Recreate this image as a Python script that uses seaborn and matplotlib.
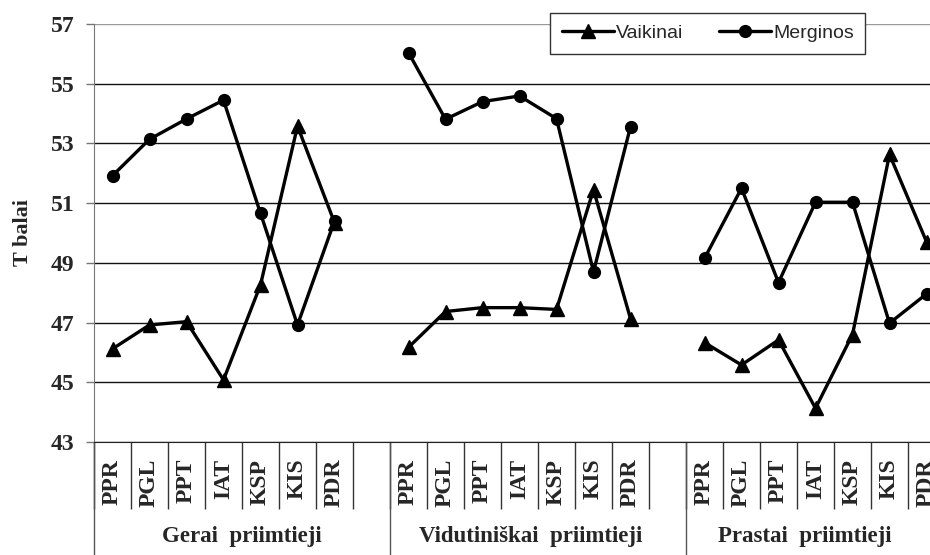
import pandas as pd
import seaborn as sns
import matplotlib.pyplot as plt
from matplotlib.lines import Line2D

GROUPS = ['Gerai  priimtieji', 'Vidutiniškai  priimtieji', 'Prastai  priimtieji']
SCALES = ['PPR', 'PGL', 'PPT', 'IAT', 'KSP', 'KIS', 'PDR']

VAIKINAI = [
    [46.12, 46.92, 47.03, 45.08, 48.26, 53.58, 50.35],
    [46.17, 47.37, 47.50, 47.50, 47.44, 51.45, 47.13],
    [46.33, 45.58, 46.42, 44.13, 46.60, 52.63, 49.71],
]
MERGINOS = [
    [51.92, 53.14, 53.82, 54.45, 50.66, 46.92, 50.40],
    [56.04, 53.81, 54.40, 54.59, 53.83, 48.70, 53.56],
    [49.15, 51.50, 48.34, 51.03, 51.03, 46.98, 47.96],
]

SERIF = 'Liberation Serif'
SANS = 'Liberation Sans'


def build_df():
    rows = []
    for name, values in [('Vaikinai', VAIKINAI), ('Merginos', MERGINOS)]:
        for g, group_vals in enumerate(values):
            for c, v in enumerate(group_vals):
                # one empty slot after each group
                rows.append({'series': name, 'group': g, 'pos': g * 8 + c,
                             'scale': SCALES[c], 'value': v})
    return pd.DataFrame(rows)


def main():
    df = build_df()

    sns.set_style('white')
    plt.rcParams['font.family'] = [SERIF, 'DejaVu Serif']

    fig = plt.figure(figsize=(9.3, 5.55), dpi=100)
    ax = fig.add_axes([94 / 930, 113 / 555, 851 / 930, 418 / 555])

    styles = {'Vaikinai': ('^', 10), 'Merginos': ('o', 8.5)}
    for name, (marker, ms) in styles.items():
        sns.lineplot(
            data=df[df['series'] == name], x='pos', y='value',
            units='group', estimator=None, sort=False,
            color='black', lw=2.4, marker=marker, markersize=ms,
            markeredgecolor='black', markeredgewidth=1,
            legend=False, ax=ax, zorder=3
        )

    ax.set_xlim(-0.5, 22.5)
    ax.set_ylim(43, 57)
    ax.set_yticks(range(43, 58, 2))
    ax.yaxis.grid(True, color='#111111', lw=1)
    ax.get_ygridlines()[-1].set_color('#9a9a9a')
    ax.set_axisbelow(True)

    for s in ['top', 'right']:
        ax.spines[s].set_visible(False)
    ax.spines['left'].set_color('#777777')
    ax.spines['bottom'].set_color('#222222')

    ax.tick_params(axis='y', left=True, direction='out', length=6, width=1,
                   color='#777777', pad=8, labelsize=17)
    for lab in ax.get_yticklabels():
        lab.set_fontweight('bold')

    positions = sorted(df['pos'].unique())
    ax.set_xticks(positions)
    ax.set_xticklabels(SCALES * 3, rotation=90, fontsize=17,
                       fontweight='bold')
    ax.set_xticks([x - 0.5 for x in range(24)], minor=True)
    ax.tick_params(axis='x', which='major', bottom=True, length=0, pad=12)
    ax.tick_params(axis='x', which='minor', bottom=True, direction='out',
                   length=48, width=1, color='#333333')

    for x in [-0.5, 7.5, 15.5]:
        ax.axvline(x, ymin=-0.3, ymax=0, clip_on=False, color='#555555',
                   lw=1)

    trans = ax.get_xaxis_transform()
    for g, xc in zip(GROUPS, [3.5, 11.3, 18.7]):
        ax.text(xc, -0.225, g, transform=trans, ha='center', va='center',
                fontsize=16.5, fontweight='bold')

    ax.set_xlabel('')
    ax.set_ylabel('T balai', fontsize=16, fontweight='bold')
    ax.yaxis.set_label_coords(-0.072, 0.5)

    handles = [
        Line2D([], [], color='black', lw=2.4, marker='^', markersize=10),
        Line2D([], [], color='black', lw=2.4, marker='o', markersize=8.5),
    ]
    leg = fig.legend(handles, ['Vaikinai', 'Merginos'], loc='center',
                     bbox_to_anchor=(0.761, 0.94), ncol=2, frameon=True,
                     fancybox=False, framealpha=1, edgecolor='#333333',
                     prop={'family': SANS, 'size': 14}, handlelength=2.7,
                     handletextpad=0.1, columnspacing=1.8,
                     borderpad=0.6)
    leg.get_frame().set_linewidth(1)

    fig.savefig('out.png', dpi=100)
    plt.close(fig)


main()
